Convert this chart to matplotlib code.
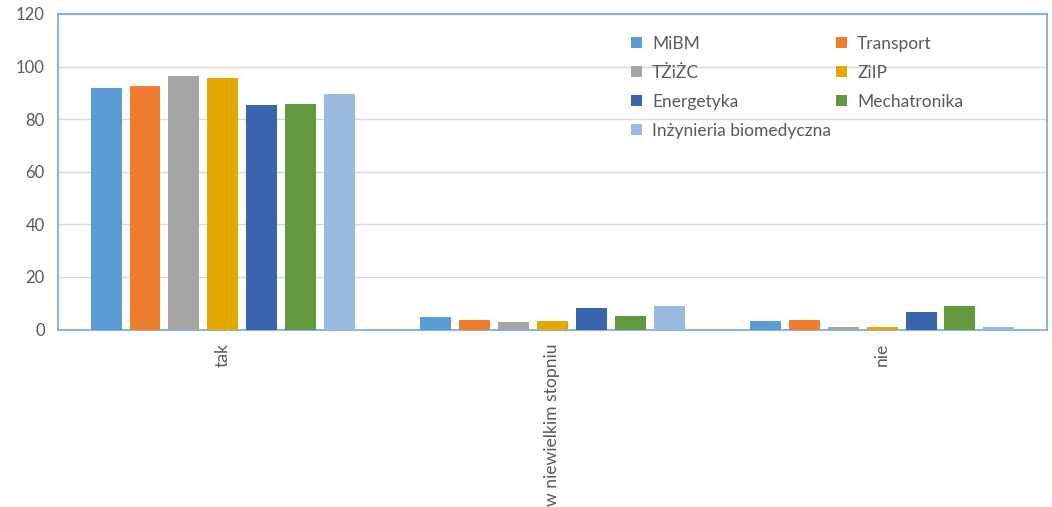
import numpy as np
import matplotlib.pyplot as plt

plt.rcParams['font.family'] = ['Lato', 'DejaVu Sans']

categories = ['tak', 'w niewielkim stopniu', 'nie']
series = ['MiBM', 'Transport', 'TŻiŻC', 'ZiIP', 'Energetyka', 'Mechatronika',
          'Inżynieria biomedyczna']
colors = ['#5B9BD5', '#ED7D31', '#A5A5A5', '#E2AA00', '#3A64AE', '#62993E', '#9BBAE0']

mibm = [91.8, 4.8, 3.2]
transport = [92.6, 3.6, 3.6]
tzizc = [96.4, 2.9, 1.0]
ziip = [95.6, 3.2, 0.9]
energetyka = [85.4, 8.2, 6.6]
mechatronika = [85.7, 5.1, 8.9]
inz_biomed = [89.5, 8.9, 1.0]
values = [mibm, transport, tzizc, ziip, energetyka, mechatronika, inz_biomed]

txt = '#595959'
fig = plt.figure(figsize=(10.52, 5.07), dpi=100)
ax = fig.add_axes([0.0551, 0.350, 0.9401, 0.6224])

x = np.arange(len(categories))
step = 0.118
width = 0.094
bars = []
for i, (name, vals, c) in enumerate(zip(series, values, colors)):
    b = ax.bar(x + (i - 3) * step, vals, width, color=c, label=name, zorder=3)
    bars.append(b)

ax.set_xlim(-0.5, 2.5)
ax.set_ylim(0, 120)
ax.set_yticks(range(0, 121, 20))
ax.set_xticks(x)
ax.set_xticklabels(categories, rotation=90, va='top', ha='center')
ax.tick_params(axis='y', length=0, labelsize=12, colors=txt, pad=9.5)
ax.tick_params(axis='x', length=0, labelsize=12.6, colors=txt, pad=9.7)
ax.grid(axis='y', color='#D9D9D9', linewidth=1.0, zorder=0)
for s in ax.spines.values():
    s.set_color('#6FA8DC')
    s.set_linewidth(1.2)

# legend filled row by row like in the original
order = [0, 2, 4, 6, 1, 3, 5]
leg = ax.legend([bars[i] for i in order], [series[i] for i in order],
                ncol=2, loc='upper left', bbox_to_anchor=(0.571, 0.958),
                frameon=False, fontsize=12.5, borderpad=0, handlelength=0.6,
                handleheight=0.6, handletextpad=0.6, columnspacing=0.3,
                labelspacing=0.75)
for t in leg.get_texts():
    t.set_color(txt)

fig.savefig('out.png', dpi=100)
